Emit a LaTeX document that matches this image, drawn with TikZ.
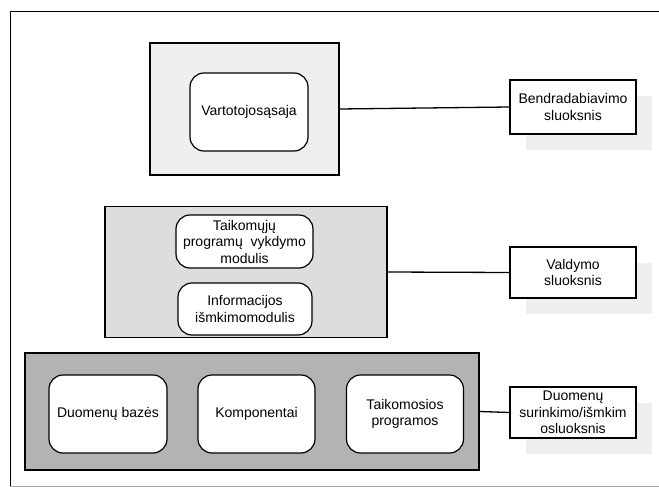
\documentclass[tikz,border=0pt]{standalone}
\usepackage{fontspec}
\setmainfont{Liberation Sans}
\usetikzlibrary{shadows}
\definecolor{toplayer}{HTML}{EFEFEF}
\definecolor{midlayer}{HTML}{DDDDDD}
\definecolor{lowlayer}{HTML}{B3B3B3}
\definecolor{shade}{HTML}{EEEEEE}
\tikzset{
    layer/.style={rectangle, draw, line width=1.4pt, inner sep=0pt},
    part/.style={rectangle, rounded corners=14pt, draw, fill=white, line width=1.2pt, align=center, inner sep=0pt, font=\fontsize{14}{16.5}\selectfont},
    tier/.style={rectangle, draw, fill=white, line width=1.2pt, minimum width=126pt, align=center, inner sep=0pt, font=\fontsize{14}{16.5}\selectfont,
        drop shadow={shadow xshift=16pt, shadow yshift=-16pt, fill=shade, opacity=1}},
    link/.style={line width=1.3pt},
}
\begin{document}
\begin{tikzpicture}[x=1pt, y=-1pt]

\useasboundingbox (0,0) rectangle (659,487);

% ── frame ──
\draw[line width=1pt] (10,486) -- (10,12) -- (670,12);
\draw[line width=1pt, gray!70] (10,486) -- (670,486);

% ── top layer ──
\node[layer, fill=toplayer, minimum width=189pt, minimum height=132pt] (ui) at (244.5,109) {};
\node[part, minimum width=118pt, minimum height=78pt] (vart) at (249,112) {Vartotojosąsaja};

% ── middle layer ──
\node[layer, fill=midlayer, minimum width=282pt, minimum height=131pt] (ctrl) at (246,272) {};
\node[part, minimum width=137pt, minimum height=53pt] (exec) at (244.5,241.5) {Taikomųjų\\programų~ vykdymo\\modulis};
\node[part, minimum width=134pt, minimum height=52pt] (info) at (245,309) {Informacijos\\išmkimomodulis};

% ── bottom layer ──
\node[layer, fill=lowlayer, minimum width=454pt, minimum height=117pt] (data) at (252,411.5) {};
\node[part, minimum width=118pt, minimum height=78pt] (db) at (108,414) {Duomenų bazės};
\node[part, minimum width=117pt, minimum height=78pt] (comp) at (256.5,414) {Komponentai};
\node[part, minimum width=117pt, minimum height=78pt] (apps) at (405,414) {Taikomosios\\programos};

% ── tiers ──
\node[tier, minimum height=54pt] (bendr) at (573,107) {Bendradabiavimo\\sluoksnis};
\node[tier, minimum height=51pt] (vald) at (573,272.5) {Valdymo\\sluoksnis};
\node[tier, minimum height=51pt] (duom) at (573,412.5) {Duomenų\\surinkimo/išmkim\\osluoksnis};

\draw[link] (ui.east) -- (bendr.west);
\draw[link] (ctrl.east) -- (vald.west);
\draw[link] (data.east) -- (duom.west);

\end{tikzpicture}
\end{document}
